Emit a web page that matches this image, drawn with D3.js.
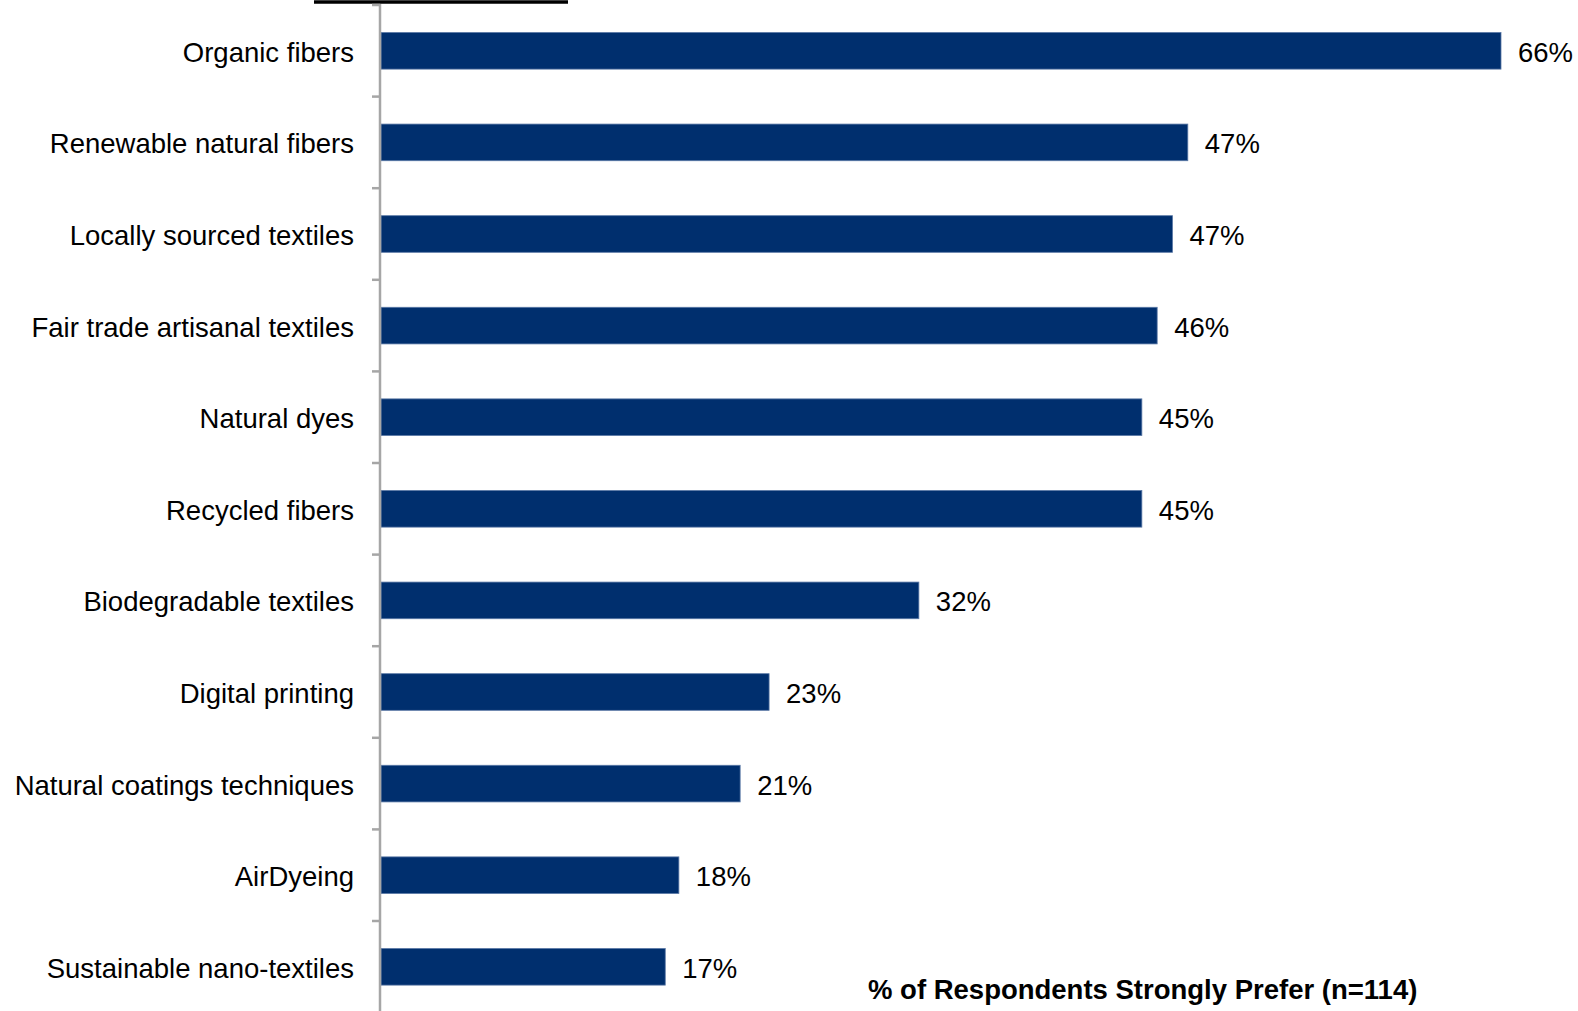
<!DOCTYPE html>
<html><head><meta charset="utf-8">
<script src="https://cdn.jsdelivr.net/npm/d3@7"></script>
<style>body{margin:0;background:#fff;}svg{display:block;font-family:Arial,"Liberation Sans",sans-serif;}</style>
</head><body>
<svg id="c" width="1578" height="1011"></svg>
<script>
const categories = ["Organic fibers","Renewable natural fibers","Locally sourced textiles","Fair trade artisanal textiles","Natural dyes","Recycled fibers","Biodegradable textiles","Digital printing","Natural coatings techniques","AirDyeing","Sustainable nano-textiles"];
const values = [65.8,47.4,46.5,45.6,44.7,44.7,31.6,22.8,21.1,17.5,16.7];
const valueLabels = ["66%","47%","47%","46%","45%","45%","32%","23%","21%","18%","17%"];
const axisTitle = "% of Respondents Strongly Prefer (n=114)";

const svg = d3.select("#c");
const x0 = 380;
const x = d3.scaleLinear().domain([0, 65.8]).range([x0 + 1, 1501]);
const y = d3.scaleBand().domain(categories).range([5, 5 + 11 * 91.6]).paddingInner(0.6).paddingOuter(0.3);

// top black line
svg.append("line").attr("x1",314).attr("x2",568).attr("y1",2).attr("y2",2).attr("stroke","#000").attr("stroke-width",3.5);

// bars
svg.selectAll("rect.bar").data(categories).join("rect").attr("class","bar")
  .attr("x", x(0)).attr("y", d => y(d))
  .attr("width", (d,i) => x(values[i]) - x(0)).attr("height", y.bandwidth())
  .attr("fill","#002F6E").attr("stroke","#5a78a6").attr("stroke-width",0.8);

// axis
const step = y.step();
const ticks = d3.range(categories.length).map(i => y(categories[i]) - step * y.paddingInner() / 2);
svg.append("line").attr("x1",x0).attr("x2",x0).attr("y1",4).attr("y2",1011).attr("stroke","#a6a6a6").attr("stroke-width",2.5);
svg.selectAll("line.tick").data(ticks).join("line").attr("class","tick")
  .attr("x1",x0-8).attr("x2",x0).attr("y1",d=>d).attr("y2",d=>d).attr("stroke","#a6a6a6").attr("stroke-width",2.5);

// category labels
svg.selectAll("text.cat").data(categories).join("text").attr("class","cat")
  .attr("x", 354).attr("y", d => y(d) + y.bandwidth()/2).attr("dy","0.4em")
  .attr("text-anchor","end").attr("font-size",27.5).attr("fill","#000").text(d => d);

// value labels
svg.selectAll("text.val").data(categories).join("text").attr("class","val")
  .attr("x", (d,i) => x(values[i]) + 17).attr("y", d => y(d) + y.bandwidth()/2).attr("dy","0.4em")
  .attr("font-size",27.5).attr("fill","#000").text((d,i) => valueLabels[i]);

// title
svg.append("text").attr("x",868).attr("y",999).attr("font-size",27.5).attr("font-weight","bold").attr("fill","#000").text(axisTitle);
</script>
</body></html>
